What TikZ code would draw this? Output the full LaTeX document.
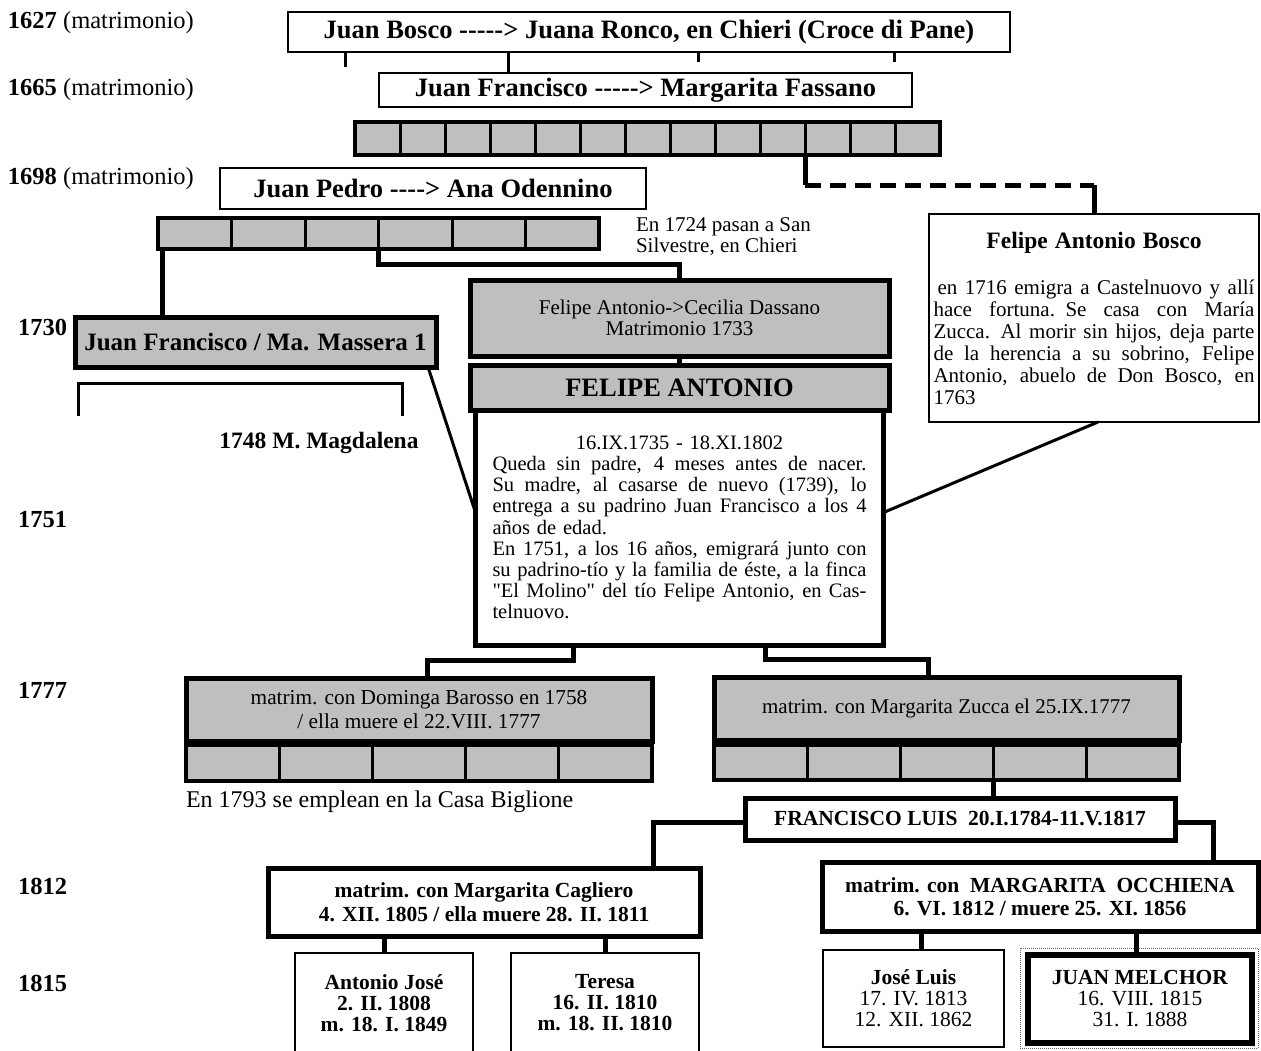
\documentclass[tikz,border=0pt]{standalone}
\usepackage{fontspec}
\setmainfont{Liberation Serif}[Ligatures=TeXOff]
\usetikzlibrary{positioning}

\newcommand{\jline}[1]{\leavevmode\hbox to\hsize{\spaceskip=.25em plus 2em\relax#1}\\}
\newcommand{\midline}[1]{\leavevmode\hbox to\hsize{\hfil#1\hfil}\\}

\begin{document}
\begin{tikzpicture}[%
        x=1pt, y=-1pt,
        every node/.style={inner sep=0pt, outer sep=0pt},
        year/.style={anchor=west, font=\fontsize{24.5}{26}\selectfont},
        plain/.style={draw, line width=2.5pt, align=center},
        heavy/.style={draw, line width=5pt, align=center},
        shade/.style={fill=black!25},
        cell/.style={draw, line width=3pt, fill=black!25, anchor=north west},
        link/.style={line width=5pt},
        thin/.style={line width=3pt},
        title/.style={font=\fontsize{26.5}{28}\selectfont\bfseries},
        child/.style={plain, font=\fontsize{21.5}{21}\selectfont}
        ]

        \useasboundingbox (0,0) rectangle (1261,1050);

        \node[year] (y1627) at (8,23) {\textbf{1627} (matrimonio)};
        \node[year] (y1665) at (8,90) {\textbf{1665} (matrimonio)};
        \node[year] (y1698) at (8,179) {\textbf{1698} (matrimonio)};
        \node[year] (y1730) at (18,327) {\textbf{1730}};
        \node[year] (y1751) at (18,520) {\textbf{1751}};
        \node[year] (y1777) at (18,690) {\textbf{1777}};
        \node[year] (y1812) at (18,886) {\textbf{1812}};
        \node[year] (y1815) at (18,983) {\textbf{1815}};

        \node[plain, title, minimum width=722pt, minimum height=40pt] (jb) at (649,32)
             {Juan Bosco -{}-{}-{}-{}-> Juana Ronco, en Chieri (Croce di Pane)};
        \node[plain, title, minimum width=533pt, minimum height=34pt] (jf) at (645.5,90)
             {Juan Francisco -{}-{}-{}-{}-> Margarita Fassano};
        \node[plain, title, minimum width=426pt, minimum height=41pt] (jp) at (433,188.5)
             {Juan Pedro -{}-{}-{}-> Ana Odennino};

        \draw[thin] ([xshift=57pt]jb.south west) -- ++(0,15);
        \draw[thin] ([xshift=220pt]jb.south west) -- ([xshift=129pt]jf.north west);
        \draw[thin] ([xshift=410pt]jb.south west) -- ++(0,10);
        \draw[thin] ([xshift=606pt]jb.south west) -- ++(0,10);

        \foreach \i in {0,...,12}
            \node[cell, minimum width=45pt, minimum height=33pt] (ba\i) at ({355+45*\i},122) {};
        \draw[line width=4pt] (ba0.north west) rectangle (ba12.south east);

        \foreach \i in {0,...,5}
            \node[cell, minimum width=73.5pt, minimum height=31pt] (bb\i) at ({158+73.5*\i},218) {};
        \draw[line width=4pt] (bb0.north west) rectangle (bb5.south east);

        \node[anchor=north west, align=left, font=\fontsize{21}{20.5}\selectfont] (san) at (636,218)
             {En 1724 pasan a San\\Silvestre, en Chieri};

        \node[heavy, shade, font=\fontsize{25}{26}\selectfont\bfseries,
              minimum width=361pt, minimum height=50pt] (jm) at (255.5,342)
             {Juan Francisco / Ma. Massera 1};
        \draw[link] ([xshift=4pt]bb0.south west) -- ([xshift=4pt]bb0.south west |- jm.north);

        \draw[thin] ([xshift=3pt,yshift=-49pt]jm.south west) -- ++(0,-33) -| ++(324,33);
        \node[font=\fontsize{23.5}{24}\selectfont\bfseries] (mm) at (319,443) {1748 M. Magdalena};

        \node[heavy, shade, font=\fontsize{21}{21}\selectfont,
              minimum width=419pt, minimum height=76pt] (fe) at (679.5,318)
             {Felipe Antonio->Cecilia Dassano\\Matrimonio 1733};
        \draw[link] (bb3.south west) -- ++(0,15) -| (fe.north);

        \node[heavy, shade, font=\fontsize{26.5}{27}\selectfont\bfseries,
              minimum width=419pt, minimum height=45pt, below=9pt of fe] (fa) {FELIPE ANTONIO};
        \draw[link] (fe.south) -- (fa.north);

        \node[heavy, align=left, text width=374pt, inner xsep=17pt, minimum height=235pt,
              font=\fontsize{20.5}{21.2}\selectfont, below=0pt of fa] (fv)
             {\midline{16.IX.1735 - 18.XI.1802}
              \jline{Queda sin padre, 4 meses antes de nacer.}
              \jline{Su madre, al casarse de nuevo (1739), lo}
              \jline{entrega a su padrino Juan Francisco a los 4}
              años de edad.\\
              \jline{En 1751, a los 16 años, emigrará junto con}
              \jline{su padrino-tío y la familia de éste, a la finca}
              \jline{"El Molino" del tío Felipe Antonio, en Cas-}
              telnuovo.};

        \node[plain, align=left, text width=321pt, inner xsep=4.5pt, minimum height=208pt,
              font=\fontsize{21}{22}\selectfont] (fb) at (1094,318)
             {\leavevmode\hbox to\hsize{\hfil\fontsize{23.5}{24}\selectfont\bfseries Felipe Antonio Bosco\hfil}\\[24pt]
              \jline{\kern4pt en 1716 emigra a Castelnuovo y allí}
              \jline{hace fortuna. Se casa con María}
              \jline{Zucca. Al morir sin hijos, deja parte}
              \jline{de la herencia a su sobrino, Felipe}
              \jline{Antonio, abuelo de Don Bosco, en}
              1763};

        \draw[link] (ba10.south west) -- ++(0,30) coordinate (dk);
        \draw[link, dash pattern=on 16pt off 9pt] (dk) -- (dk -| fb.north);
        \draw[link] (dk -| fb.north) -- (fb.north);

        \draw[thin] ([xshift=-8pt]jm.south east) -- ([yshift=15pt]fv.west);
        \draw[thin] ([xshift=4pt]fb.south) -- ([yshift=15pt]fv.east);

        \node[heavy, shade, font=\fontsize{21.3}{24}\selectfont,
              minimum width=466pt, minimum height=63pt] (db) at (419,709.5)
             {matrim. con Dominga Barosso en 1758\\/ ella muere el 22.VIII. 1777};
        \foreach \i in {0,...,4}
            \node[cell, minimum width=93.2pt, minimum height=36pt] (bc\i) at ({186+93.2*\i},745) {};
        \draw[line width=4pt] (bc0.north west) rectangle (bc4.south east);

        \node[heavy, shade, font=\fontsize{21}{24}\selectfont,
              minimum width=465pt, minimum height=63pt] (mz) at (946.5,708.5)
             {matrim. con Margarita Zucca el 25.IX.1777};
        \foreach \i in {0,...,4}
            \node[cell, minimum width=93pt, minimum height=35pt] (bd\i) at ({714+93*\i},745) {};
        \draw[line width=4pt] (bd0.north west) rectangle (bd4.south east);

        \draw[link] ([xshift=-106pt]fv.south) -- ++(0,15) -| ([xshift=8pt]db.north);
        \draw[link] ([xshift=86pt]fv.south) -- ++(0,14) -| ([xshift=-18pt]mz.north);

        \node[anchor=west, font=\fontsize{24}{26}\selectfont] (bg) at (186,802)
             {En 1793 se emplean en la Casa Biglione};

        \node[heavy, font=\fontsize{21.5}{24}\selectfont\bfseries,
              minimum width=430pt, minimum height=42pt] (fl) at (960,819)
             {FRANCISCO LUIS\ \ 20.I.1784-11.V.1817};
        \draw[link] (bd3.south west) -- (bd3.south west |- fl.north);

        \node[heavy, font=\fontsize{21.5}{24}\selectfont\bfseries,
              minimum width=432pt, minimum height=68pt] (mc) at (484,902)
             {matrim. con Margarita Cagliero\\4. XII. 1805 / ella muere 28. II. 1811};
        \node[heavy, font=\fontsize{21.5}{23}\selectfont\bfseries,
              minimum width=436pt, minimum height=69pt] (mo) at (1040,896.5)
             {matrim. con\ \ MARGARITA\ \ OCCHIENA\\6. VI. 1812 / muere 25. XI. 1856};

        \draw[link] ([yshift=-3pt]fl.west) -| ([xshift=-47pt]mc.north east);
        \draw[link] ([yshift=-3pt]fl.east) -| ([xshift=-45pt]mo.north east);

        \node[child, minimum width=178pt, minimum height=100pt] (aj) at (384,1003)
             {\bfseries Antonio José\\\bfseries 2. II. 1808\\\bfseries m. 18. I. 1849};
        \node[child, minimum width=188pt, minimum height=100pt] (te) at (605,1003)
             {\bfseries Teresa\\\bfseries 16. II. 1810\\\bfseries m. 18. II. 1810};
        \node[child, minimum width=181pt, minimum height=97pt] (jl) at (913.5,998.5)
             {\textbf{José Luis}\\17. IV. 1813\\12. XII. 1862};
        \node[child, line width=6pt, minimum width=224pt, minimum height=88pt] (jmel) at (1140,999)
             {\textbf{JUAN MELCHOR}\\16. VIII. 1815\\31. I. 1888};
        \draw[densely dotted, line width=1pt, black!60]
             ([xshift=-8pt,yshift=7pt]jmel.north west) rectangle ([xshift=6pt,yshift=-5pt]jmel.south east);

        \draw[link] (aj.north) -- ++(0,-17);
        \draw[link] (te.north) -- ++(0,-17);
        \draw[link] ([xshift=8pt]jl.north) -- ++(0,-19);
        \draw[link] ([xshift=-4pt]jmel.north) -- ++(0,-24);

        \end{tikzpicture}
\end{document}
